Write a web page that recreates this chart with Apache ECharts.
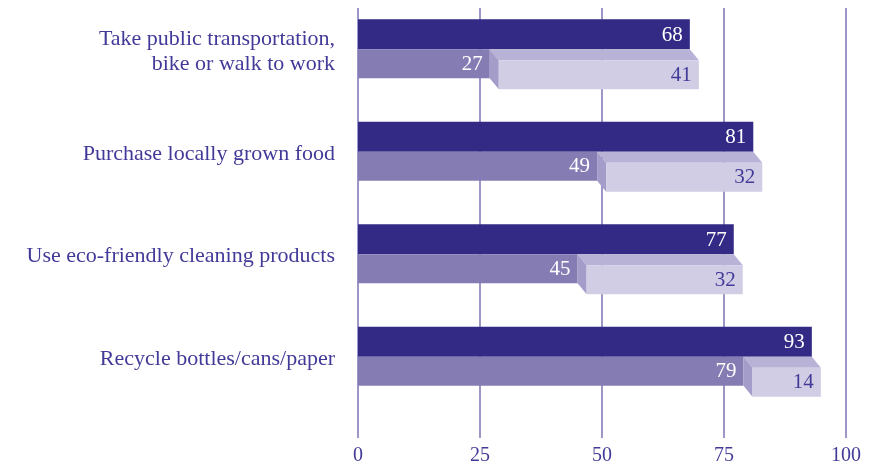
<!DOCTYPE html>
<html><head><meta charset="utf-8">
<script src="https://cdn.jsdelivr.net/npm/echarts@6/dist/echarts.min.js"></script>
<style>html,body{margin:0;padding:0;background:#fff}#c{width:876px;height:470px}</style>
</head><body><div id="c"></div>
<script>
const categories = ['Take public transportation,\nbike or walk to work', 'Purchase locally grown food', 'Use eco-friendly cleaning products', 'Recycle bottles/cans/paper'];
const totals = [68, 81, 77, 93];
const partA = [27, 49, 45, 79];
const partB = [41, 32, 32, 14];
const xMin = 0, xMax = 100, xStep = 25;

const FONT = 'Liberation Serif';
const C_DARK = '#332a85', C_MED = '#857cb3', C_TOP = '#b8b3d6', C_SIDE = '#a49dc9', C_FRONT = '#d0cde4';
const C_TEXT = '#423a98', C_GRID = '#7d75b6';

function renderItem(params, api) {
  const i = api.value(0);
  const base = api.coord([0, i]);
  const x0 = base[0], cy = base[1];
  const T = cy - 32;
  const xt = api.coord([api.value(1), i])[0];
  const xa = api.coord([api.value(2), i])[0];
  const xb = api.coord([api.value(2) + api.value(3), i])[0];
  const dx = 9, dy = 11;
  const font = '21px "' + FONT + '"';
  return {
    type: 'group',
    children: [
      { type: 'rect', shape: { x: x0, y: T, width: xt - x0, height: 30 }, style: { fill: C_DARK } },
      { type: 'rect', shape: { x: x0, y: T + 30, width: xa - x0, height: 29 }, style: { fill: C_MED } },
      { type: 'polygon', shape: { points: [[xa, T + 30], [xb, T + 30], [xb + dx, T + 30 + dy], [xa + dx, T + 30 + dy]] }, style: { fill: C_TOP } },
      { type: 'polygon', shape: { points: [[xa, T + 30], [xa + dx, T + 30 + dy], [xa + dx, T + 59 + dy], [xa, T + 59]] }, style: { fill: C_SIDE } },
      { type: 'rect', shape: { x: xa + dx, y: T + 30 + dy, width: xb - xa, height: 29 }, style: { fill: C_FRONT } },
      { type: 'text', style: { text: String(api.value(1)), x: xt - 7, y: T + 16, align: 'right', verticalAlign: 'middle', fill: '#ffffff', font: font } },
      { type: 'text', style: { text: String(api.value(2)), x: xa - 7, y: T + 45, align: 'right', verticalAlign: 'middle', fill: '#ffffff', font: font } },
      { type: 'text', style: { text: String(api.value(3)), x: xb + dx - 7, y: T + 56, align: 'right', verticalAlign: 'middle', fill: C_TEXT, font: font } }
    ]
  };
}

const chart = echarts.init(document.getElementById('c'), null, { renderer: 'canvas' });
chart.setOption({
  animation: false,
  backgroundColor: '#ffffff',
  grid: [
    { left: 358, right: 30, top: 8, bottom: 32 },
    { left: 358, right: 30, top: 0, height: 410 }
  ],
  xAxis: [
    {
      gridIndex: 0, type: 'value', min: xMin, max: xMax, interval: xStep,
      axisLine: { show: false }, axisTick: { show: false },
      splitLine: { show: true, lineStyle: { color: C_GRID, width: 1.5 } },
      axisLabel: { color: C_TEXT, fontFamily: FONT, fontSize: 20, margin: 8 }
    },
    {
      gridIndex: 1, type: 'value', min: xMin, max: xMax, show: false
    }
  ],
  yAxis: [
    { gridIndex: 0, type: 'value', show: false, min: 0, max: 1 },
    {
      gridIndex: 1, type: 'category', inverse: true, data: categories,
      axisLine: { show: false }, axisTick: { show: false }, splitLine: { show: false },
      axisLabel: { color: C_TEXT, fontFamily: FONT, fontSize: 22, lineHeight: 25, margin: 23, align: 'right', padding: [0, 0, 4, 0] }
    }
  ],
  series: [{
    type: 'custom',
    xAxisIndex: 1, yAxisIndex: 1,
    renderItem: renderItem,
    encode: { x: [1, 2, 3], y: 0 },
    data: categories.map((_, i) => [i, totals[i], partA[i], partB[i]])
  }]
});
</script>
</body></html>
